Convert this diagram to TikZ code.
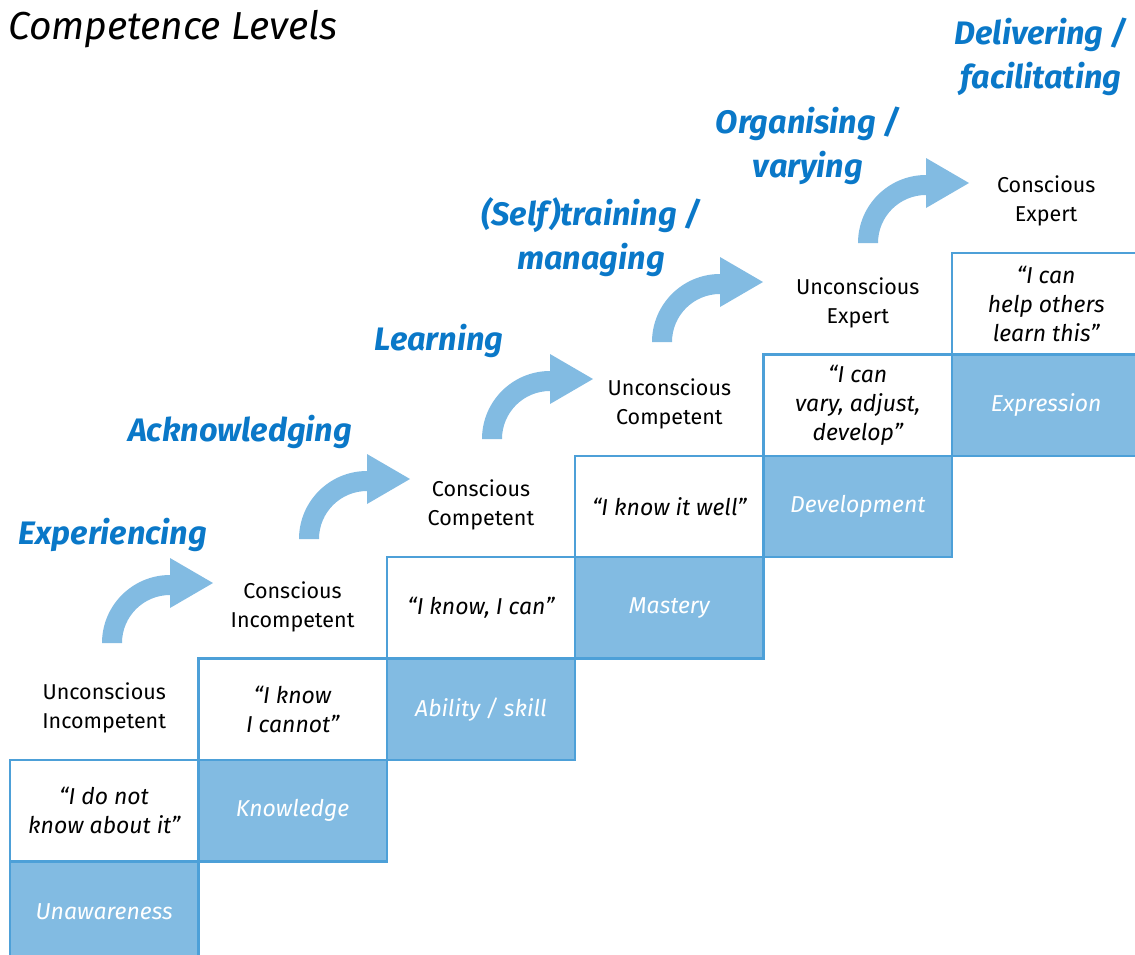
\documentclass[tikz,border=0pt]{standalone}
\usepackage{fontspec}
\setmainfont{Fira Sans}
\definecolor{stepline}{HTML}{4DA0D8}
\definecolor{stepfill}{HTML}{82BBE2}
\definecolor{phaseblue}{HTML}{0A78C8}
\tikzset{
  quotebox/.style={draw=stepline,line width=2.5pt,fill=white,minimum width=188.4pt,minimum height=101.4pt,inner sep=0pt,align=center,font=\fontsize{23}{29}\selectfont\itshape},
  stagebox/.style={quotebox,fill=stepfill,text=white},
  levellabel/.style={align=center,inner sep=0pt,font=\fontsize{21.5}{29}\selectfont},
  phaselabel/.style={align=center,inner sep=0pt,text=phaseblue,font=\fontsize{32.5}{44}\selectfont\bfseries\itshape},
  bentarrow/.pic={
    \fill[stepfill] (0,0) arc[start angle=180,end angle=270,radius=68] -- (68,-85) -- (111,-60) -- (68,-35) -- (68,-48) arc[start angle=270,end angle=180,radius=48] -- cycle;
  }
}
\begin{document}
\begin{tikzpicture}[x=1pt,y=-1pt]
\useasboundingbox (0,0) rectangle (1135,954);
\clip (0,0) rectangle (1135,954);
\node[anchor=west,inner sep=0pt,font=\fontsize{39}{42}\selectfont\itshape] (title) at (8,29) {Competence Levels};

\node[quotebox] (qt0) at (104.2,810.7) {“I do not\\know about it”};
\node[stagebox] (st0) at (104.2,912.1) {Unawareness};
\node[quotebox] (qt1) at (292.6,709.3) {“I know\\I cannot”};
\node[stagebox] (st1) at (292.6,810.7) {Knowledge};
\node[quotebox] (qt2) at (481.0,607.9) {“I know, I can”};
\node[stagebox] (st2) at (481.0,709.3) {Ability / skill};
\node[quotebox] (qt3) at (669.4,506.5) {“I know it well”};
\node[stagebox] (st3) at (669.4,607.9) {Mastery};
\node[quotebox] (qt4) at (857.8,405.1) {“I can\\vary, adjust,\\develop”};
\node[stagebox] (st4) at (857.8,506.5) {Development};
\node[quotebox] (qt5) at (1046.2,303.7) {“I can\\help others\\learn this”};
\node[stagebox] (st5) at (1046.2,405.1) {Expression};

\node[levellabel] (lvl0) at (104.2,708) {Unconscious\\Incompetent};
\node[levellabel] (lvl1) at (292.6,606.6) {Conscious\\Incompetent};
\node[levellabel] (lvl2) at (481.0,505.2) {Conscious\\Competent};
\node[levellabel] (lvl3) at (669.4,403.8) {Unconscious\\Competent};
\node[levellabel] (lvl4) at (857.8,302.4) {Unconscious\\Expert};
\node[levellabel] (lvl5) at (1046.2,201) {Conscious\\Expert};

\pic at (102,643) {bentarrow};
\pic at (299,539) {bentarrow};
\pic at (482,439) {bentarrow};
\pic at (652,342) {bentarrow};
\pic at (858,243) {bentarrow};

\node[phaselabel] (ph0) at (113,535) {Experiencing};
\node[phaselabel] (ph1) at (240,432) {Acknowledging};
\node[phaselabel] (ph2) at (439,341) {Learning};
\node[phaselabel] (ph3) at (591,237) {(Self)training /\\managing};
\node[phaselabel] (ph4) at (808,146) {Organising /\\varying};
\node[phaselabel] (ph5) at (1041,57) {Delivering /\\facilitating};
\end{tikzpicture}
\end{document}
